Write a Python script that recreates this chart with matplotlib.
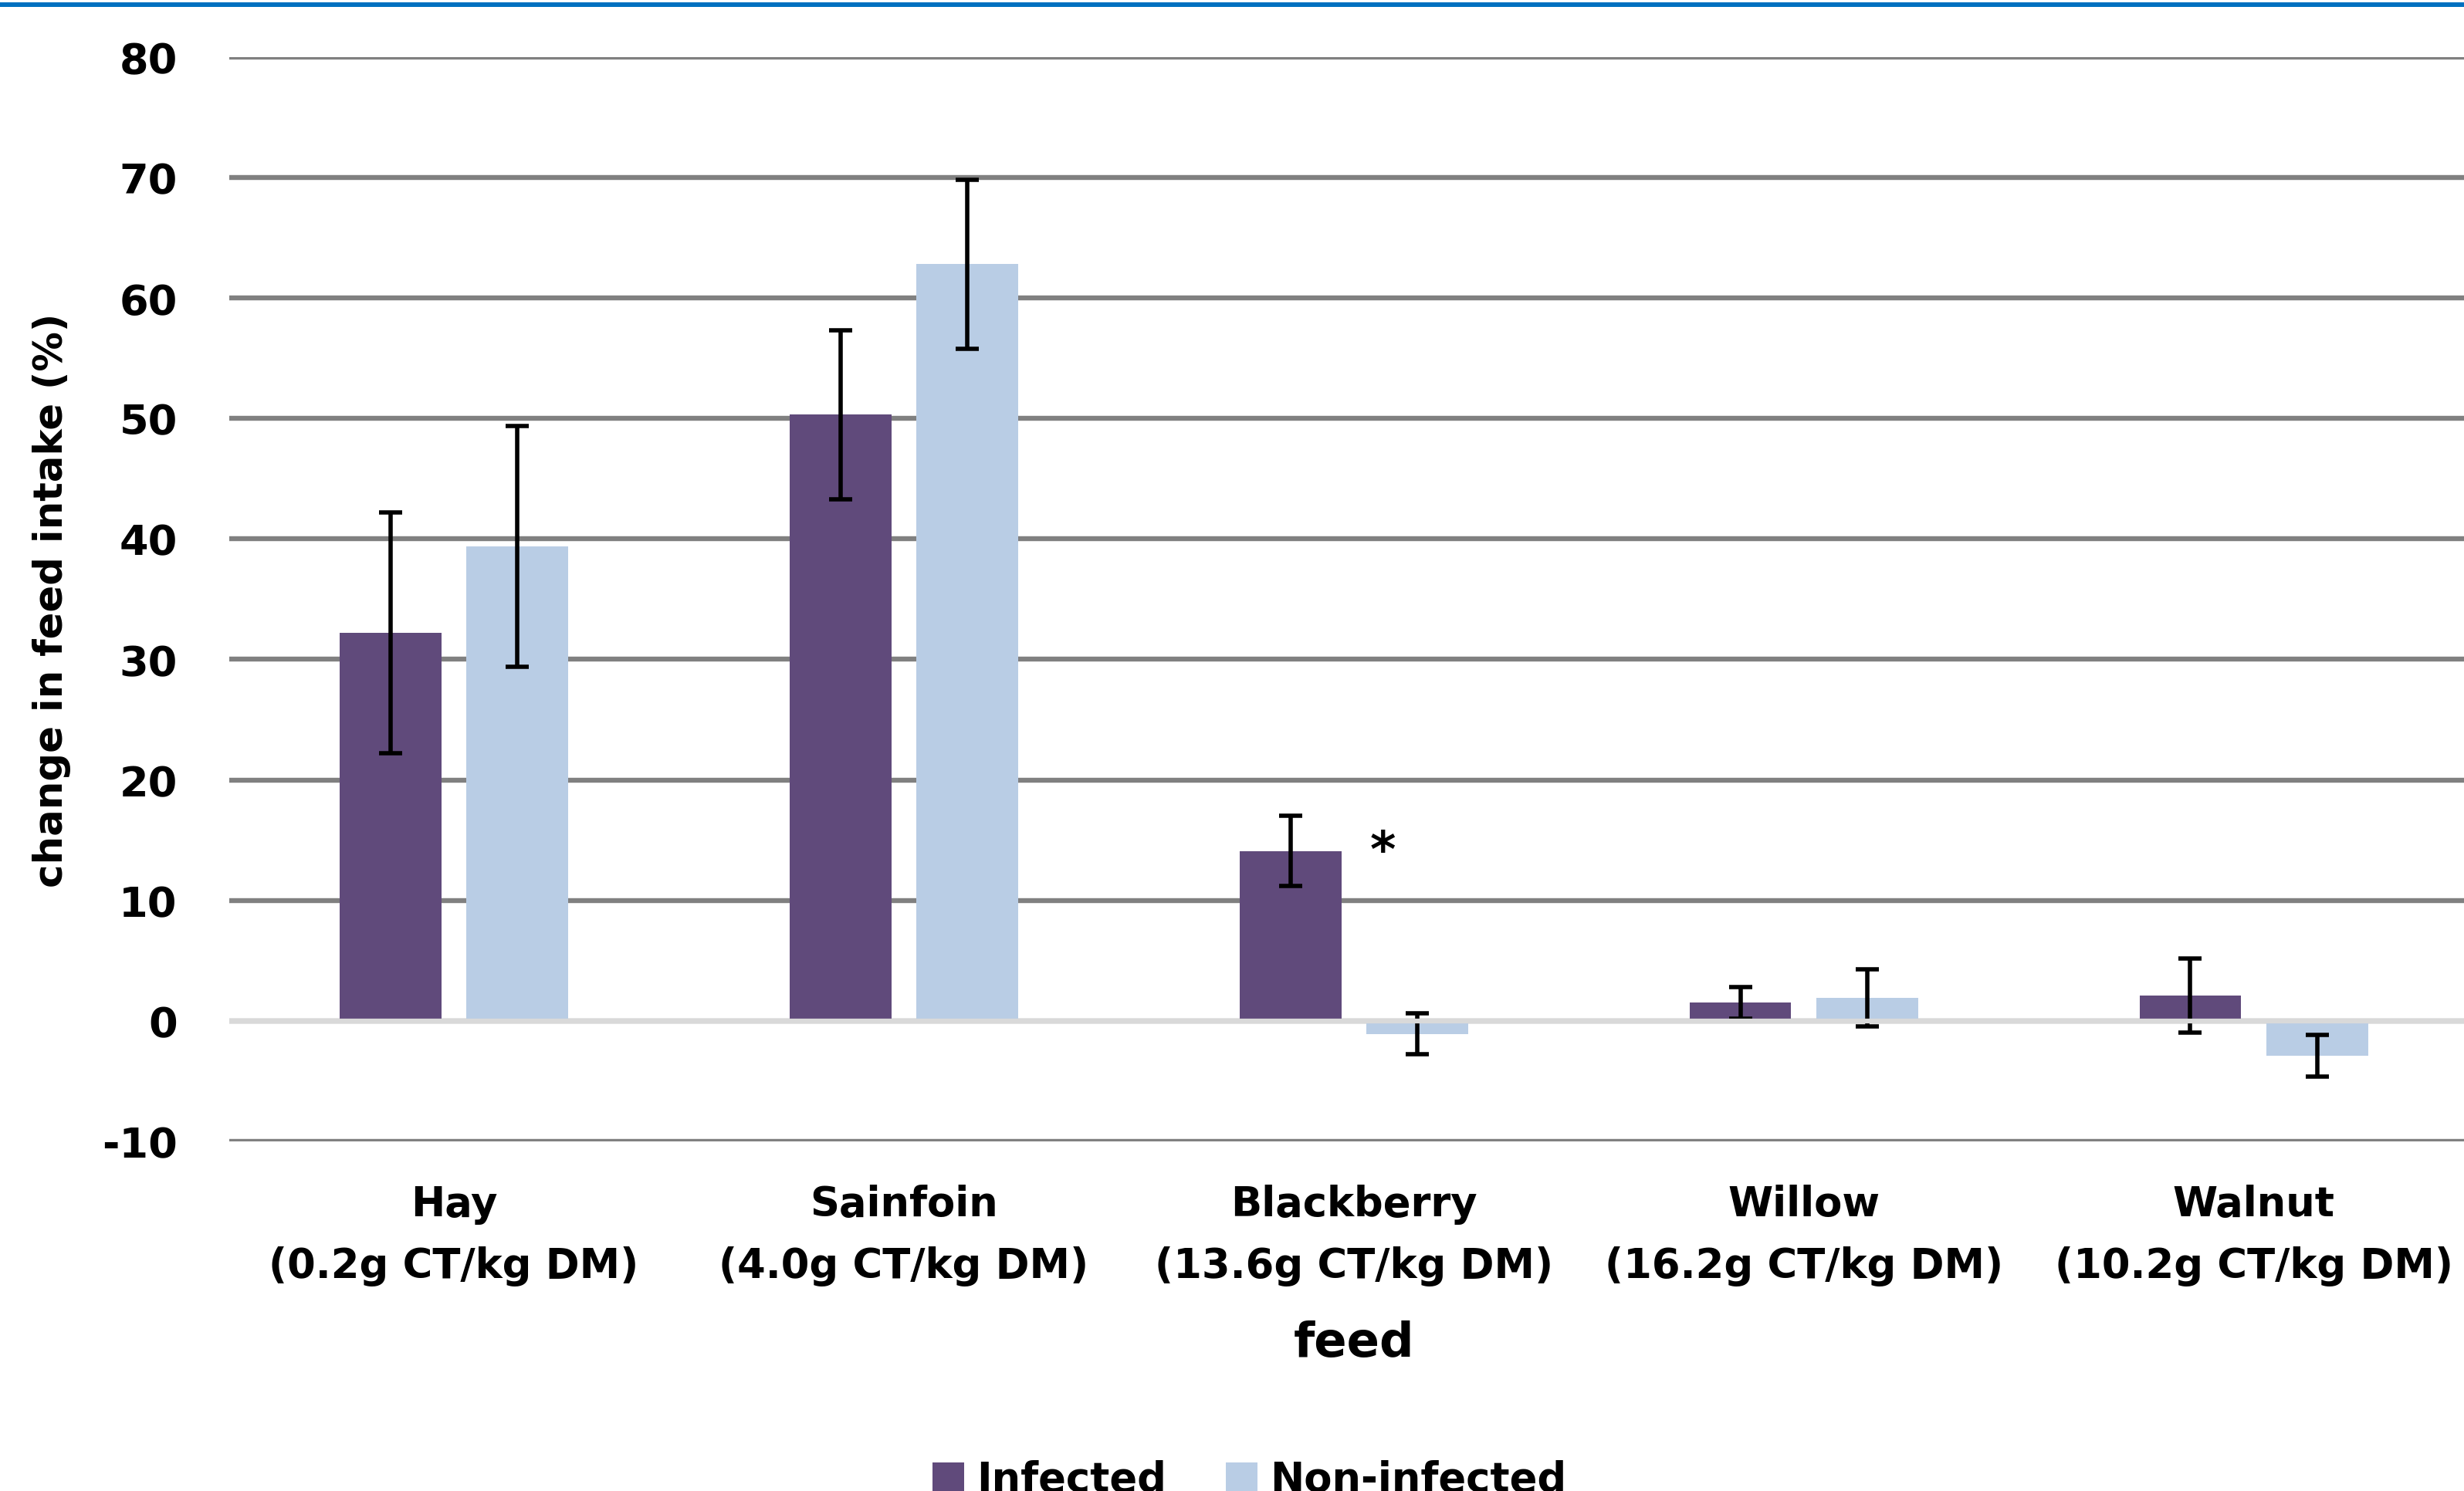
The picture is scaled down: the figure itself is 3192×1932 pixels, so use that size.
import numpy as np
import matplotlib.pyplot as plt
from matplotlib.lines import Line2D

plt.rcParams['axes.unicode_minus'] = False

# data
feeds = ["Hay", "Sainfoin", "Blackberry", "Willow", "Walnut"]
ct_content = ["0.2g CT/kg DM", "4.0g CT/kg DM", "13.6g CT/kg DM", "16.2g CT/kg DM", "10.2g CT/kg DM"]
infected = [32.2, 50.3, 14.1, 1.5, 2.1]
infected_err = [10.0, 7.0, 2.9, 1.3, 3.1]
non_infected = [39.4, 62.8, -1.1, 1.9, -2.9]
non_infected_err = [10.0, 7.0, 1.7, 2.35, 1.75]
yticks = [-10, 0, 10, 20, 30, 40, 50, 60, 70, 80]
star_feed = "Blackberry"
star_y = 14

c_inf = "#604A7B"
c_non = "#B9CDE5"
font = "DejaVu Sans"

fig = plt.figure(figsize=(31.92, 19.33), dpi=100)
ax = fig.add_axes([0.0929, 0.2344, 0.9131, 0.7269])

x = np.arange(len(feeds))
off = 0.141
w = 0.226
err_kw = dict(ecolor="black", elinewidth=4.0, capsize=10.5, capthick=4.0, zorder=4)

ax.bar(x - off, infected, w, color=c_inf, label="Infected", zorder=3)
ax.bar(x + off, non_infected, w, color=c_non, label="Non-infected", zorder=3)
ax.errorbar(x - off, infected, yerr=infected_err, fmt="none", **err_kw)
ax.errorbar(x + off, non_infected, yerr=non_infected_err, fmt="none", **err_kw)

# zero line sits on top of the bars
ax.axhline(0, color="#D9D9D9", lw=4.5, zorder=6)

# significance marker
si = feeds.index(star_feed)
ax.text(si + 0.065, star_y, "*", ha="center", va="center", fontsize=46,
        fontweight="bold", fontfamily=font, zorder=7)

ax.set_xlim(-0.5, len(feeds) - 0.5)
ax.set_ylim(-10, 80)
ax.set_yticks(yticks)
ax.yaxis.grid(True, color="#808080", lw=4.6, zorder=0)
ax.set_axisbelow(True)
ax.set_xticks(x)
ax.set_xticklabels([f"{f}\n({c})" for f, c in zip(feeds, ct_content)],
                   fontsize=38, fontweight="bold", fontfamily=font, linespacing=1.67)
for lab in ax.get_yticklabels():
    lab.set_fontsize(39)
    lab.set_fontweight("bold")
    lab.set_fontfamily(font)
ax.tick_params(axis="y", length=0, pad=48)
ax.tick_params(axis="x", length=0, pad=40)
for s in ax.spines.values():
    s.set_visible(False)

ax.set_xlabel("feed", fontsize=45, fontweight="bold", fontfamily=font, labelpad=32)
fig.text(67 / 3192, 1 - 778 / 1933, "change in feed intake (%)", rotation=90,
         ha="center", va="center", fontsize=37, fontweight="bold", fontfamily=font)

leg = fig.legend(loc="center", bbox_to_anchor=(0.507, 0.008), ncol=2, frameon=False,
                 prop={"family": font, "size": 38, "weight": "bold"},
                 handlelength=0.78, handleheight=0.7, handletextpad=0.3,
                 columnspacing=1.46)

# blue rule across the top
fig.add_artist(Line2D([0, 1], [1 - 7 / 1933, 1 - 7 / 1933], color="#0070C0",
                      lw=4.3, transform=fig.transFigure))

fig.savefig("out.png", dpi=100)
